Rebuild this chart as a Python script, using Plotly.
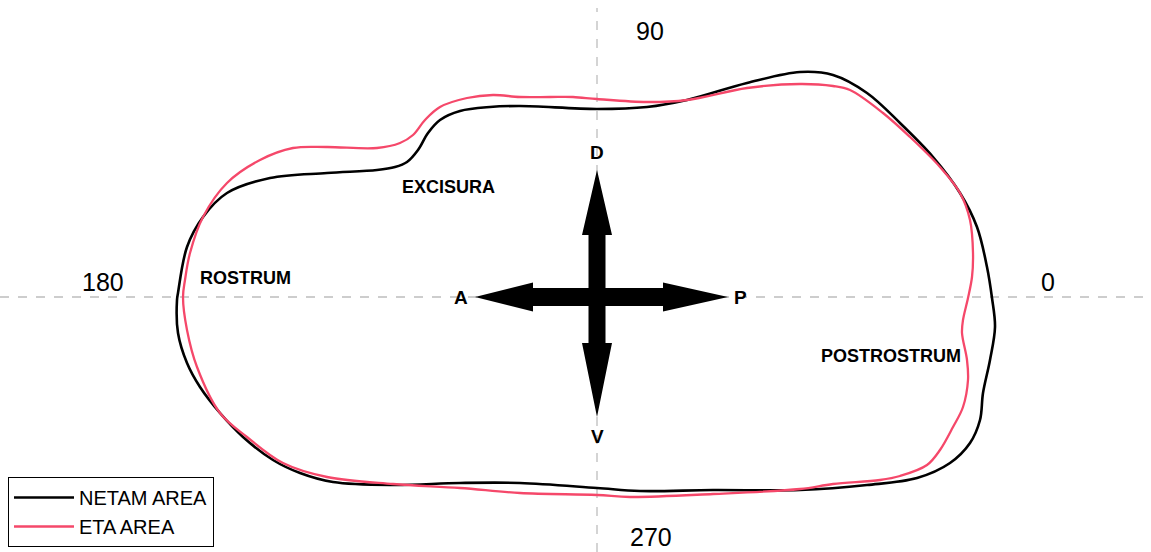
import plotly.graph_objects as go

# Otolith outlines, coordinates relative to the centroid (x right, y up)
netam_x = [-420, -419, -410, -394, -370, -327, -270, -220, -202, -190, -179, -169, -157, -137, -107, -77,
           0, 50, 90, 150, 203, 236, 270, 303, 336, 363, 380, 390, 395, 398, 393, 386, 383, 373, 353,
           320, 270, 203, 116, 43, 0, -77, -137, -204, -264, -297, -324, -354, -377, -397, -410, -419, -420]
netam_y = [-3, 4, 50, 80, 104, 119, 124, 127, 130, 135, 147, 164, 177, 186, 190, 191,
           188, 190, 197, 214, 225, 222, 204, 174, 140, 104, 70, 30, -1, -30, -63, -96, -123, -146, -166,
           -181, -188, -193, -193, -194, -191, -186, -186, -188, -185, -176, -163, -140, -116, -90, -66, -36, -3]

eta_x = [-414, -412, -407, -394, -370, -337, -304, -270, -220, -197, -184, -172, -157, -130, -104, -77,
         -47, -24, 0, 50, 90, 150, 203, 236, 253, 286, 313, 343, 363, 373, 376, 375, 371, 366, 365, 370,
         371, 366, 356, 343, 330, 303, 283, 236, 203, 116, 33, 0, -77, -137, -204, -270, -314, -350, -377,
         -400, -410, -414]
eta_y = [0, 17, 44, 80, 114, 137, 149, 150, 149, 154, 162, 177, 190, 199, 202, 200,
         200, 200, 198, 195, 197, 209, 213, 211, 207, 184, 160, 130, 104, 77, 44, 20, -1, -23, -36, -63,
         -83, -110, -130, -153, -168, -179, -183, -187, -192, -197, -200, -198, -196, -191, -187, -180, -166, -140, -116,
         -70, -33, 0]

# Angle labels placed around the reference axes
angle_labels = ["0", "90", "180", "270"]
angle_pos = [(451, 15), (53, 266), (-494, 15), (54, -240)]

# Direction arrows (anterior/posterior, dorsal/ventral)
dir_labels = ["A", "P", "D", "V"]
dir_pos = [(-136, 0), (143, 0), (0, 145), (0, -139)]

region_labels = ["EXCISURA", "ROSTRUM", "POSTROSTRUM"]
region_pos = [(-149, 110), (-352, 19), (294, -59)]

X_RANGE = [-597, 554]
Y_RANGE = [-255, 297]

FONT = "Liberation Sans, Arial, sans-serif"

fig = go.Figure()

fig.add_trace(go.Scatter(x=netam_x, y=netam_y, mode="lines", name="NETAM AREA",
                         line=dict(color="black", width=2.6, shape="spline", smoothing=1.0)))
fig.add_trace(go.Scatter(x=eta_x, y=eta_y, mode="lines", name="ETA AREA",
                         line=dict(color="#f5486a", width=2.3, shape="spline", smoothing=1.0)))

# dashed reference axes
dash = dict(color="#bdbdbd", width=1.3, dash="dash")
fig.add_shape(type="line", x0=X_RANGE[0], x1=X_RANGE[1], y0=0, y1=0, line=dash, layer="below")
fig.add_shape(type="line", x0=0, x1=0, y0=Y_RANGE[0], y1=Y_RANGE[1] - 8, line=dash, layer="below")


def double_arrow(tip_neg, base_neg, base_pos, tip_pos, head_half, shaft_half, horizontal):
    pts = [(tip_neg, 0), (base_neg, head_half), (base_neg, shaft_half), (base_pos, shaft_half),
           (base_pos, head_half), (tip_pos, 0), (base_pos, -head_half), (base_pos, -shaft_half),
           (base_neg, -shaft_half), (base_neg, -head_half)]
    if not horizontal:
        pts = [(b, a) for a, b in pts]
    return "M " + " L ".join(f"{x},{y}" for x, y in pts) + " Z"


fig.add_shape(type="path", path=double_arrow(-122, -64, 66, 131, 14.5, 9, True),
              fillcolor="black", line=dict(width=0))
fig.add_shape(type="path", path=double_arrow(-120, -46, 62, 127, 15, 8.5, False),
              fillcolor="black", line=dict(width=0))

for text, (x, y) in zip(angle_labels, angle_pos):
    fig.add_annotation(x=x, y=y, text=text, showarrow=False,
                       font=dict(family=FONT, size=25, color="black"))

for text, (x, y) in zip(dir_labels, dir_pos):
    fig.add_annotation(x=x, y=y, text=f"<b>{text}</b>", showarrow=False,
                       font=dict(family=FONT, size=19, color="black"))

for text, (x, y) in zip(region_labels, region_pos):
    fig.add_annotation(x=x, y=y, text=f"<b>{text}</b>", showarrow=False,
                       font=dict(family=FONT, size=18, color="black"))

fig.update_layout(
    width=1151, height=552,
    margin=dict(l=0, r=0, t=0, b=0),
    paper_bgcolor="white", plot_bgcolor="white",
    xaxis=dict(range=X_RANGE, visible=False, fixedrange=True),
    yaxis=dict(range=Y_RANGE, visible=False, fixedrange=True),
    showlegend=True,
    legend=dict(x=8 / 1151, y=(552 - 477) / 552, xanchor="left", yanchor="top",
                bordercolor="black", borderwidth=1, bgcolor="white",
                font=dict(family=FONT, size=20, color="black"),
                itemwidth=60),
)

fig.write_html("out.html")
